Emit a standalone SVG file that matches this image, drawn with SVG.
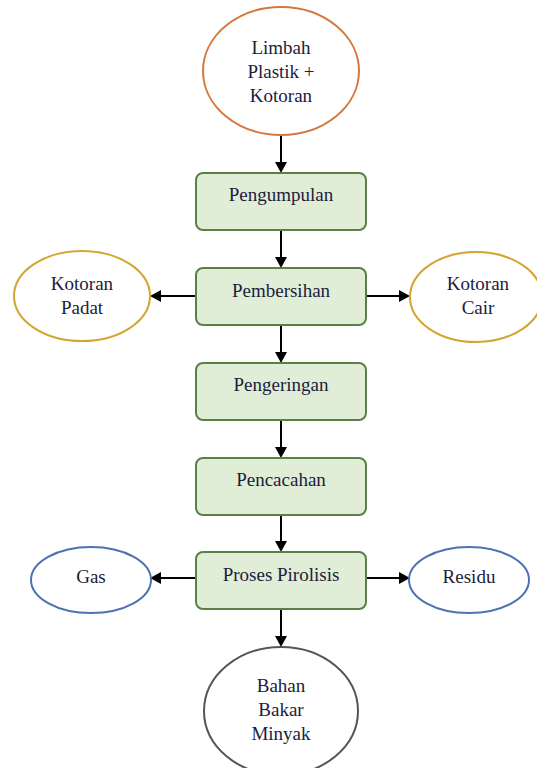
<svg xmlns="http://www.w3.org/2000/svg" width="537" height="768" viewBox="0 0 537 768">
<defs>
<style>
text{font-family:"Liberation Serif","Times New Roman",serif;font-size:19px;fill:#1c1c3c;text-anchor:middle}
.box{fill:#e0eed8;stroke:#5b7f47;stroke-width:2}
.el{fill:#fff;stroke-width:2}
.ln{stroke:#000;stroke-width:2;fill:none}
.hd{fill:#000}
</style>
</defs>
<rect width="537" height="768" fill="#fff"/>
<g id="connectors">
<path class="ln" d="M281,135 V164"/><path class="hd" d="M275,162 L281,173 L287,162 z"/>
<path class="ln" d="M281,230 V258"/><path class="hd" d="M275,257 L281,268 L287,257 z"/>
<path class="ln" d="M281,325 V353"/><path class="hd" d="M275,352 L281,363 L287,352 z"/>
<path class="ln" d="M281,420 V448"/><path class="hd" d="M275,447 L281,458 L287,447 z"/>
<path class="ln" d="M281,515 V542"/><path class="hd" d="M275,541 L281,552 L287,541 z"/>
<path class="ln" d="M281,609 V637"/><path class="hd" d="M275,636 L281,647 L287,636 z"/>
<path class="ln" d="M196,296 H160"/><path class="hd" d="M161,290 L150,296 L161,302 z"/>
<path class="ln" d="M366,296 H400"/><path class="hd" d="M399,290 L410,296 L399,302 z"/>
<path class="ln" d="M196,578 H160"/><path class="hd" d="M161,572 L150,578 L161,584 z"/>
<path class="ln" d="M366,578 H400"/><path class="hd" d="M399,572 L410,578 L399,584 z"/>
</g>
<g id="limbah"><ellipse class="el" cx="281" cy="71" rx="78" ry="64" stroke="#d5783c"/>
<text x="281" y="54">Limbah</text><text x="281" y="78">Plastik +</text><text x="281" y="102">Kotoran</text></g>
<g id="pengumpulan"><rect class="box" x="196" y="173" width="170" height="57" rx="7"/><text x="281" y="201">Pengumpulan</text></g>
<g id="pembersihan"><rect class="box" x="196" y="268" width="170" height="57" rx="7"/><text x="281" y="297">Pembersihan</text></g>
<g id="pengeringan"><rect class="box" x="196" y="363" width="170" height="57" rx="7"/><text x="281" y="391">Pengeringan</text></g>
<g id="pencacahan"><rect class="box" x="196" y="458" width="170" height="57" rx="7"/><text x="281" y="486">Pencacahan</text></g>
<g id="pirolisis"><rect class="box" x="196" y="552" width="170" height="57" rx="7"/><text x="281" y="581">Proses Pirolisis</text></g>
<g id="padat"><ellipse class="el" cx="82" cy="296" rx="68" ry="45" stroke="#d4a52e"/><text x="82" y="290">Kotoran</text><text x="82" y="314">Padat</text></g>
<g id="cair"><ellipse class="el" cx="476" cy="297" rx="66" ry="45" stroke="#d4a52e"/><text x="478" y="290">Kotoran</text><text x="478" y="314">Cair</text></g>
<g id="gas"><ellipse class="el" cx="91" cy="580" rx="60" ry="33" stroke="#4d70b3"/><text x="91" y="583">Gas</text></g>
<g id="residu"><ellipse class="el" cx="469" cy="580" rx="60" ry="33" stroke="#4d70b3"/><text x="469" y="583">Residu</text></g>
<g id="bahan"><ellipse class="el" cx="281" cy="711" rx="77" ry="64" stroke="#555"/><text x="281" y="692">Bahan</text><text x="281" y="716">Bakar</text><text x="281" y="740">Minyak</text></g>
</svg>
